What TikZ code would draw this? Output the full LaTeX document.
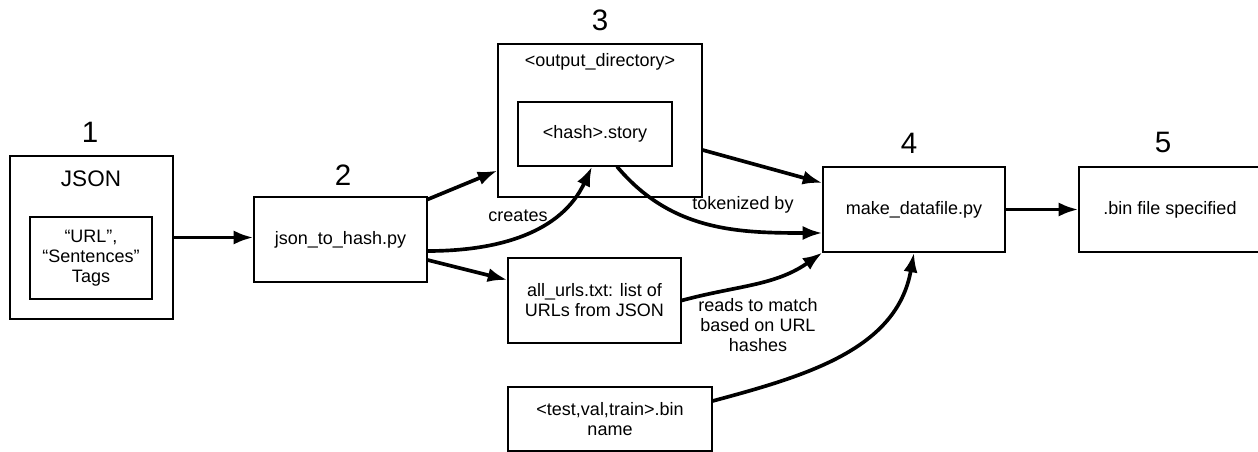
\documentclass[tikz,border=0pt]{standalone}
\usepackage{fontspec}
\setmainfont{Liberation Sans}
\usetikzlibrary{arrows.meta,calc}
\tikzset{
  box/.style={draw, line width=0.8pt, inner sep=0pt, align=center,
    font=\fontsize{12.8}{14.2}\selectfont},
  plain/.style={inner sep=0pt, align=center, font=\fontsize{12.8}{14.2}\selectfont},
  stagenum/.style={inner sep=0pt, font=\fontsize{21}{24}\selectfont},
  flow/.style={->, line width=2.6pt},
}
\begin{document}
\begin{tikzpicture}[x=0.025cm, y=-0.025cm, >={Latex[length=14pt,width=10pt]}]
                \useasboundingbox (0,0) rectangle (1258,452);
                % boxes
                \node [box, minimum width=4.075cm, minimum height=4.075cm] (json) at (91.5,237.5) {};
                \node [plain, font=\fontsize{16}{19}\selectfont] (jsonlbl) at (91,179) {JSON};
                \node [box, minimum width=3.05cm, minimum height=2.05cm] (tags) at (91,258) {“URL”,\\“Sentences”\\Tags};
                \node [box, minimum width=4.325cm, minimum height=2.125cm] (tohash) at (340.5,239.5) {json\_to\_hash.py};
                \node [box, minimum width=5.1cm, minimum height=3.825cm] (outdir) at (600,120.5) {};
                \node [plain] (outdirlbl) at (600,62) {<output\_directory>};
                \node [box, minimum width=3.85cm, minimum height=1.6cm] (story) at (595,134) {<hash>.story};
                \node [box, minimum width=4.325cm, minimum height=2.125cm] (urls) at (594.5,300.5) {all\_urls.txt: list of\\URLs from JSON};
                \node [box, minimum width=5.1cm, minimum height=1.6cm] (binname) at (610,419) {<test,val,train>.bin\\name};
                \node [box, minimum width=4.55cm, minimum height=2.125cm] (datafile) at (914,209.5) {make\_datafile.py};
                \node [box, minimum width=4.55cm, minimum height=2.125cm] (binout) at (1170,209.5) {.bin file specified};
                % stage numbers
                \node [stagenum] (n1) at (90,132) {1};
                \node [stagenum] (n2) at (343,175) {2};
                \node [stagenum] (n3) at (600,20) {3};
                \node [stagenum] (n4) at (909,143) {4};
                \node [stagenum] (n5) at (1163,142) {5};
                % arrows
                \draw [flow] (json.east) -- (json.east -| tohash.west);
                \draw [flow] ($(tohash.north east)+(0,3)$) -- ($(outdir.south west)+(0,-27)$);
                \draw [flow] ($(tohash.east)+(0,11.5)$) to [out=0, in=-115] ($(story.south)+(-3,0)$);
                \draw [flow] ($(tohash.east)+(0,20.5)$) -- ($(urls.west)+(0,-20.5)$);
                \draw [flow] ($(outdir.east)+(0,29.5)$) -- ($(datafile.west)+(0,-26.5)$);
                \draw [flow] ($(story.south)+(22,0)$) to [out=-50, in=180] ($(datafile.west)+(0,23.5)$);
                \draw [flow] (urls.east) to [out=15, in=-145] (datafile.south west);
                \draw [flow] ($(binname.east)+(0,-18)$) to [out=15, in=-100] (datafile.south);
                \draw [flow] (datafile.east) -- (binout.west);
                % labels
                \node [plain] (creates) at (518,216) {creates};
                \node [plain] (tokenized) at (743,205) {tokenized by};
                \node [plain] (reads) at (758,325) {reads to match\\based on URL\\hashes};
            \end{tikzpicture}
\end{document}
